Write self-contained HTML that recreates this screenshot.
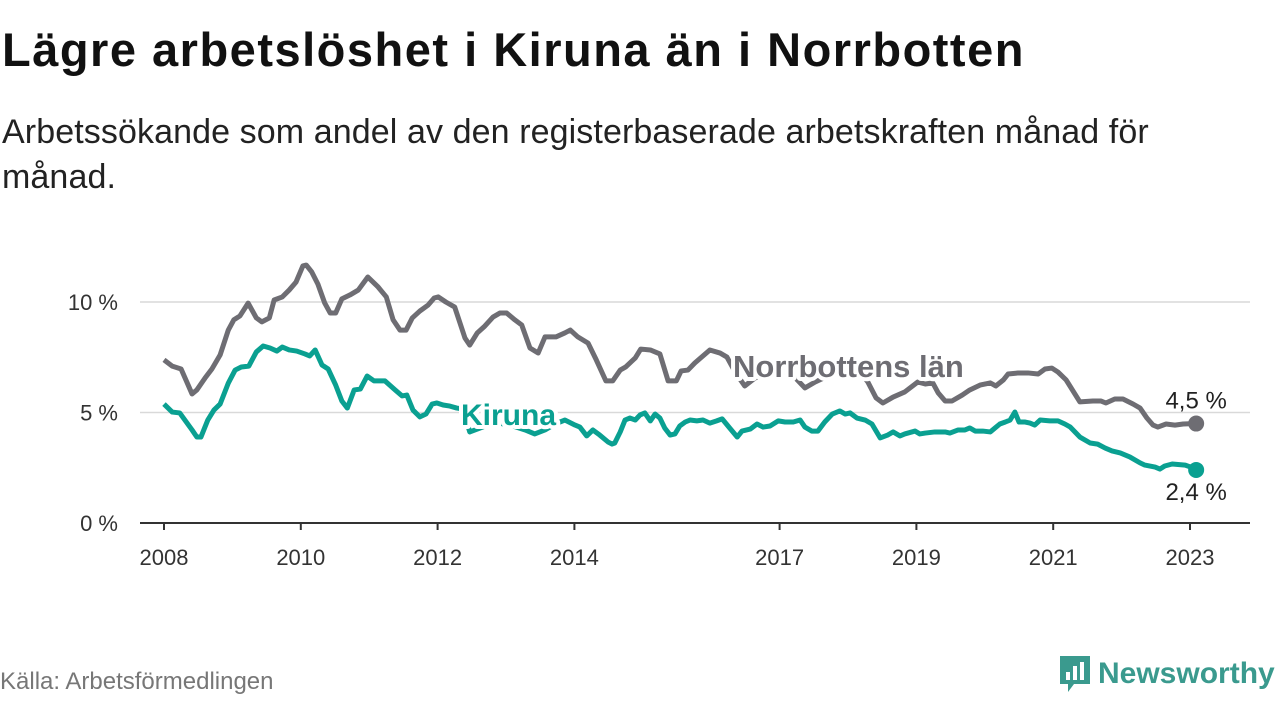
<!DOCTYPE html>
<html><head><meta charset="utf-8"><style>
body{margin:0;width:1280px;height:720px;background:#fff;font-family:"Liberation Sans",sans-serif;overflow:hidden;position:relative}
#title{position:absolute;left:2px;top:22px;font-size:47px;font-weight:bold;color:#111;margin:0;letter-spacing:1.5px}
#sub{position:absolute;left:2px;top:110px;font-size:34px;color:#222;line-height:45px;width:1200px;letter-spacing:0.1px}
#src{position:absolute;left:0;top:668px;font-size:24px;color:#777}
#logo{position:absolute;left:1058px;top:654px;display:flex;align-items:center}
#logo span{font-size:30px;font-weight:bold;color:#3a9a8e;margin-left:6px}
svg{position:absolute;left:0;top:0}
</style></head><body>
<h1 id="title">Lägre arbetslöshet i Kiruna än i Norrbotten</h1>
<div id="sub">Arbetssökande som andel av den registerbaserade arbetskraften månad för månad.</div>
<svg id="chart" width="1280" height="720"></svg>
<div id="src">Källa: Arbetsförmedlingen</div>
<div id="logo">
<svg style="position:static" width="34" height="40" viewBox="0 0 34 40"><path d="M2 2h30v28H16l-6 8v-8H2z" fill="#3a9a8e"/><rect x="8" y="18" width="4" height="8" fill="#fff"/><rect x="15" y="12" width="4" height="14" fill="#fff"/><rect x="22" y="8" width="4" height="18" fill="#fff"/></svg>
<span>Newsworthy</span></div>
<script>
const yTicks=[0,5,10];
const yTickLabels=["0 %","5 %","10 %"];
const xTicks=[2008,2010,2012,2014,2017,2019,2021,2023];
const norrDates=[2008.00,2008.12,2008.25,2008.41,2008.48,2008.60,2008.70,2008.82,2008.94,2009.02,2009.11,2009.23,2009.35,2009.43,2009.54,2009.61,2009.73,2009.83,2009.93,2010.03,2010.08,2010.16,2010.25,2010.35,2010.43,2010.51,2010.60,2010.72,2010.84,2010.98,2011.13,2011.25,2011.35,2011.45,2011.54,2011.63,2011.74,2011.86,2011.95,2012.01,2012.12,2012.25,2012.40,2012.47,2012.58,2012.69,2012.81,2012.91,2013.01,2013.13,2013.23,2013.35,2013.47,2013.57,2013.73,2013.86,2013.94,2014.05,2014.20,2014.32,2014.46,2014.56,2014.67,2014.75,2014.89,2014.97,2015.11,2015.25,2015.37,2015.49,2015.56,2015.66,2015.76,2015.98,2016.13,2016.23,2016.35,2016.49,2016.64,2016.86,2017.15,2017.37,2017.52,2017.74,2017.96,2018.18,2018.29,2018.41,2018.51,2018.66,2018.83,2019.02,2019.13,2019.24,2019.32,2019.42,2019.52,2019.67,2019.78,2019.93,2020.08,2020.16,2020.27,2020.34,2020.49,2020.63,2020.78,2020.88,2020.98,2021.07,2021.19,2021.39,2021.58,2021.70,2021.77,2021.90,2022.02,2022.17,2022.27,2022.37,2022.46,2022.53,2022.65,2022.78,2022.90,2023.09];
const norrValues=[7.38,7.10,6.97,5.84,6.02,6.56,6.97,7.60,8.73,9.19,9.37,9.95,9.28,9.10,9.28,10.09,10.23,10.54,10.90,11.63,11.67,11.36,10.81,9.95,9.50,9.50,10.14,10.32,10.54,11.13,10.68,10.23,9.19,8.73,8.73,9.28,9.59,9.86,10.18,10.23,10.00,9.77,8.37,8.05,8.60,8.91,9.32,9.50,9.50,9.19,8.96,7.92,7.69,8.42,8.42,8.60,8.73,8.42,8.14,7.38,6.43,6.43,6.92,7.06,7.47,7.87,7.83,7.65,6.43,6.43,6.88,6.92,7.24,7.83,7.69,7.51,6.83,6.20,6.56,6.83,6.83,6.11,6.38,6.70,6.83,6.83,6.38,5.66,5.43,5.70,5.93,6.38,6.29,6.34,5.88,5.52,5.52,5.79,6.02,6.24,6.34,6.20,6.47,6.74,6.79,6.79,6.74,6.97,7.01,6.83,6.47,5.48,5.52,5.52,5.43,5.61,5.61,5.38,5.20,4.75,4.43,4.34,4.48,4.43,4.48,4.50];
const kirDates=[2008.00,2008.12,2008.23,2008.41,2008.48,2008.54,2008.64,2008.73,2008.82,2008.94,2009.04,2009.13,2009.24,2009.35,2009.45,2009.55,2009.65,2009.73,2009.83,2009.94,2010.06,2010.13,2010.21,2010.31,2010.40,2010.51,2010.60,2010.68,2010.78,2010.87,2010.97,2011.07,2011.23,2011.38,2011.48,2011.55,2011.64,2011.74,2011.83,2011.92,2011.99,2012.08,2012.18,2012.28,2012.37,2012.47,2012.84,2013.06,2013.28,2013.42,2013.57,2013.72,2013.86,2014.01,2014.08,2014.18,2014.27,2014.37,2014.49,2014.55,2014.59,2014.67,2014.74,2014.81,2014.89,2014.96,2015.03,2015.11,2015.18,2015.25,2015.32,2015.40,2015.47,2015.54,2015.62,2015.69,2015.79,2015.88,2015.98,2016.08,2016.16,2016.27,2016.38,2016.45,2016.57,2016.67,2016.76,2016.86,2016.98,2017.08,2017.20,2017.30,2017.37,2017.47,2017.56,2017.66,2017.77,2017.88,2017.96,2018.03,2018.13,2018.25,2018.35,2018.47,2018.58,2018.66,2018.76,2018.83,2018.98,2019.05,2019.13,2019.27,2019.42,2019.49,2019.61,2019.71,2019.78,2019.86,2019.97,2020.08,2020.15,2020.22,2020.30,2020.37,2020.44,2020.50,2020.59,2020.66,2020.73,2020.81,2020.95,2021.07,2021.17,2021.25,2021.39,2021.54,2021.65,2021.76,2021.86,2021.98,2022.12,2022.27,2022.34,2022.49,2022.56,2022.63,2022.74,2022.93,2023.01,2023.09];
const kirValues=[5.38,5.02,4.98,4.21,3.89,3.89,4.66,5.11,5.38,6.33,6.92,7.06,7.10,7.74,8.01,7.92,7.78,7.96,7.83,7.78,7.65,7.56,7.83,7.15,6.97,6.24,5.52,5.20,6.02,6.06,6.65,6.43,6.43,6.02,5.75,5.79,5.11,4.80,4.93,5.38,5.43,5.34,5.29,5.20,5.16,4.12,4.55,4.43,4.21,4.03,4.21,4.48,4.66,4.43,4.34,3.94,4.21,3.98,3.67,3.57,3.62,4.12,4.66,4.75,4.66,4.89,4.98,4.62,4.93,4.75,4.30,3.98,4.03,4.39,4.57,4.66,4.62,4.66,4.52,4.62,4.71,4.30,3.89,4.16,4.25,4.48,4.34,4.39,4.62,4.57,4.57,4.66,4.34,4.16,4.16,4.57,4.93,5.07,4.93,4.98,4.75,4.66,4.48,3.85,3.98,4.12,3.94,4.03,4.16,4.03,4.07,4.12,4.12,4.07,4.21,4.21,4.30,4.16,4.16,4.12,4.30,4.48,4.57,4.66,5.02,4.57,4.57,4.52,4.43,4.66,4.62,4.62,4.48,4.34,3.89,3.62,3.57,3.39,3.26,3.17,2.99,2.72,2.62,2.53,2.44,2.58,2.67,2.62,2.53,2.40];
const NS="http://www.w3.org/2000/svg";
const svg=document.getElementById('chart');
const X=d=>164+(d-2008)*68.4;
const Y=v=>523-v*22.1;
function mk(t,a,p){const e=document.createElementNS(NS,t);for(const k in a)e.setAttribute(k,a[k]);(p||svg).appendChild(e);return e;}
yTicks.forEach((v,i)=>{
  if(v>0){const g=mk('line',{x1:140,x2:1250,y1:Y(v),y2:Y(v),stroke:'#d9d9d9','stroke-width':1.5});
  
  }
  const t=mk('text',{x:118,y:Y(v)+8,'text-anchor':'end','font-size':22,fill:'#333'});
  t.textContent=yTickLabels[i];
  
  
});
const ax=mk('line',{x1:140,x2:1250,y1:Y(0),y2:Y(0),stroke:'#333','stroke-width':2});


xTicks.forEach(y=>{
  const tk=mk('line',{x1:X(y),x2:X(y),y1:Y(0),y2:Y(0)+7,stroke:'#333','stroke-width':2});
  
  
  const t=mk('text',{x:X(y),y:Y(0)+42,'text-anchor':'middle','font-size':22,fill:'#333'});
  t.textContent=y;
  
  
});
function series(dates,vals,color,name){
  const p=mk('polyline',{points:dates.map((d,i)=>X(d)+','+Y(vals[i])).join(' '),fill:'none',stroke:color,'stroke-width':5,'stroke-linejoin':'round'});
  
  
  const n=dates.length-1;
  const c=mk('circle',{cx:X(dates[n]),cy:Y(vals[n]),r:8,fill:color});
  
  
}
series(norrDates,norrValues,'#6e6d73','norrbotten');
series(kirDates,kirValues,'#0aa091','kiruna');
function lbl(x,y,txt,col,name,fs){
  const t=mk('text',{x:x,y:y,'font-size':fs,'font-weight':'bold',fill:col,stroke:'#fff','stroke-width':8,'paint-order':'stroke','stroke-linejoin':'round'});
  t.textContent=txt;
  
  
}
lbl(733,377,'Norrbottens län','#6e6d73','norrbotten-label',31);
lbl(461,425,'Kiruna','#0aa091','kiruna-label',30);
const nn=norrDates.length-1,kn=kirDates.length-1;
const a=mk('text',{x:X(norrDates[nn]),y:Y(norrValues[nn])-15,'text-anchor':'middle','font-size':24,fill:'#222'});
a.textContent=String(norrValues[nn].toFixed(1)).replace('.',',')+' %';


const b=mk('text',{x:X(kirDates[kn]),y:Y(kirValues[kn])+30,'text-anchor':'middle','font-size':24,fill:'#222'});
b.textContent=String(kirValues[kn].toFixed(1)).replace('.',',')+' %';


</script>
</body></html>
